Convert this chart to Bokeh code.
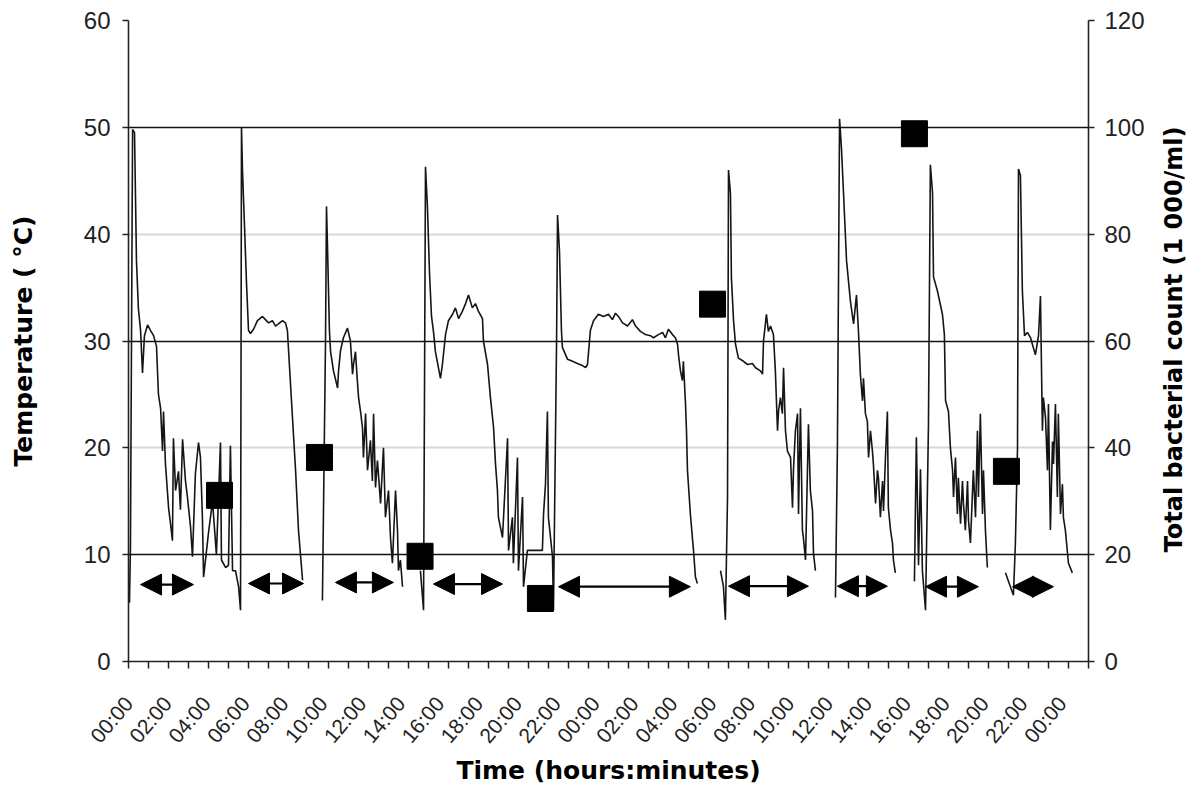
import math
from bokeh.plotting import figure
from bokeh.layouts import row
from bokeh.models import (Range1d, LinearAxis, FixedTicker, Grid, Arrow, NormalHead,
                          ColumnDataSource)
from bokeh.core.properties import value
from bokeh.embed import file_html
from bokeh.resources import INLINE

nan = float("nan")

# ---------------- data ----------------
# temperature trace: time in hours from the first 00:00, temperature in degC (nan = gap)
time_h = [
    0.05, 0.10, 0.21, 0.31, 0.41, 0.51, 0.62, 0.72, 0.82, 0.98,
    1.13, 1.29, 1.44, 1.54, 1.65, 1.75, 1.80, 1.90, 2.06, 2.16,
    2.26, 2.31, 2.42, 2.57, 2.67, 2.78, 2.93, 3.03, 3.19, 3.29,
    3.44, 3.60, 3.70, 3.80, 3.86, 4.11, 4.32, 4.52, 4.73, 4.78,
    4.99, 5.14, 5.24, 5.35, 5.50, 5.66, 5.76, 5.81, 5.86, 5.96,
    6.07, 6.17, 6.27, 6.43, 6.63, 6.89, 7.04, 7.20, 7.40, 7.56,
    7.71, 7.92, 8.07, 8.17, 8.38, 8.59, 8.74, 8.95, 9.46,
    9.97, 10.13, 10.18, 10.23, 10.33, 10.39, 10.54, 10.75, 10.80, 10.90,
    11.05, 11.26, 11.41, 11.52, 11.57, 11.67, 11.77, 11.83, 11.93, 12.03,
    12.08, 12.19, 12.29, 12.44, 12.54, 12.60, 12.70, 12.80, 12.96, 13.11,
    13.21, 13.37, 13.47, 13.57, 13.73, 13.83, 13.88, 13.98, 14.09, 14.60,
    15.01, 15.17, 15.27, 15.37, 15.48, 15.58, 15.68, 15.78, 16.04, 16.14,
    16.30, 16.45, 16.66, 16.81, 16.97, 17.17, 17.33, 17.48, 17.68, 17.84,
    17.99, 18.20, 18.25, 18.46, 18.61, 18.77, 18.87, 18.97, 19.02, 19.23,
    19.49, 19.54, 19.74, 19.79, 20.00, 20.05, 20.26, 20.31, 20.51, 21.28,
    21.34, 21.44, 21.54, 21.59, 21.70, 21.80, 21.85, 22.01, 22.06, 22.16,
    22.26, 22.31, 22.57, 22.83, 23.08, 23.34, 23.50, 23.60, 23.75, 23.91,
    24.16, 24.42, 24.68, 24.88, 25.04, 25.19, 25.40, 25.66, 25.91, 26.07,
    26.32, 26.58, 26.84, 26.99, 27.25, 27.46, 27.61, 27.76, 27.97, 28.12,
    28.23, 28.28, 28.38, 28.48, 28.53, 28.64, 28.69, 28.74, 28.89, 29.05,
    29.15, 29.25, 29.85,
    30.44, 30.59, 30.69, 30.80, 30.85, 30.95, 31.00, 31.11, 31.21, 31.36,
    31.62, 31.83, 32.08, 32.24, 32.49, 32.60, 32.65, 32.80, 32.90, 33.01,
    33.16, 33.26, 33.37, 33.42, 33.52, 33.62, 33.68, 33.78, 33.88, 34.04,
    34.14, 34.19, 34.29, 34.40, 34.45, 34.55, 34.65, 34.70, 34.81, 34.91,
    34.96, 35.06, 35.17, 35.22, 35.32, 35.84,
    36.35, 36.45, 36.56, 36.66, 36.76, 36.92, 37.12, 37.28, 37.43, 37.53,
    37.63, 37.74, 37.79, 37.89, 37.99, 38.05, 38.15, 38.25, 38.30, 38.41,
    38.51, 38.56, 38.66, 38.77, 38.82, 38.92, 39.02, 39.07, 39.18, 39.28,
    39.33, 39.43, 39.92,
    40.41, 40.51, 40.62, 40.72, 40.82, 40.98, 41.13, 41.23, 41.34, 41.39,
    41.59, 41.85, 41.95, 42.01, 42.16, 42.26, 42.37, 42.42, 42.52, 42.62,
    42.67, 42.78, 42.88, 42.93, 43.03, 43.14, 43.19, 43.29, 43.44, 43.55,
    43.65, 43.70, 43.80, 43.91, 43.96, 44.06, 44.16, 44.62,
    45.09, 45.50, 45.60, 45.71, 45.76, 45.86, 45.96, 46.07, 46.22, 46.38,
    46.63, 46.79, 46.89, 46.99, 47.04, 47.15, 47.25, 47.30, 47.40, 47.51,
    47.56, 47.66, 47.76, 47.81, 47.92, 48.02, 48.07, 48.17, 48.33, 48.53,
]
temp_c = [
    5.5, 10.7, 49.8, 49.5, 37.5, 33.0, 31.0, 27.0, 30.5, 31.5,
    31.0, 30.5, 29.5, 25.0, 23.7, 19.7, 23.4, 18.5, 14.4, 12.9,
    11.3, 20.9, 16.0, 17.8, 14.2, 20.8, 16.9, 15.4, 12.6, 9.8,
    17.6, 20.5, 19.1, 13.5, 7.9, 12.0, 15.0, 10.0, 20.5, 9.5,
    8.8, 9.0, 20.2, 8.5, 8.5, 7.0, 4.8, 50.0, 46.0, 41.0,
    35.3, 31.0, 30.7, 31.1, 31.9, 32.3, 32.0, 31.7, 31.9, 31.4,
    31.6, 31.9, 31.7, 31.0, 24.4, 17.9, 12.3, 7.6, nan,
    5.7, 30.0, 42.6, 39.0, 31.0, 29.0, 27.2, 25.6, 27.2, 29.1,
    30.3, 31.2, 30.0, 26.9, 27.8, 29.0, 26.2, 24.7, 23.4, 21.9,
    19.1, 23.2, 17.9, 20.7, 16.9, 23.2, 16.3, 18.8, 14.8, 20.0,
    13.5, 16.0, 11.6, 9.2, 16.0, 12.3, 8.5, 9.5, 7.0, nan,
    8.5, 4.8, 46.3, 42.6, 36.2, 32.3, 30.9, 29.0, 26.5, 27.8,
    30.6, 31.9, 32.5, 33.1, 32.1, 32.8, 33.5, 34.3, 33.1, 33.5,
    32.8, 32.1, 30.0, 27.8, 24.7, 21.9, 18.5, 16.0, 13.5, 11.6,
    20.9, 10.4, 13.5, 9.2, 19.1, 8.5, 15.4, 7.0, 10.4, 10.4,
    13.8, 16.6, 23.4, 13.5, 11.6, 9.8, 4.8, 30.0, 41.8, 38.4,
    31.0, 29.4, 28.3, 28.1, 27.9, 27.7, 27.5, 27.8, 31.0, 31.9,
    32.5, 32.3, 32.5, 32.0, 32.6, 32.3, 31.7, 31.4, 32.0, 31.4,
    30.9, 30.6, 30.5, 30.3, 30.6, 30.8, 30.3, 31.1, 30.6, 30.3,
    29.7, 28.7, 27.2, 26.3, 28.1, 24.1, 21.6, 17.9, 13.8, 10.4,
    7.9, 7.3, nan,
    8.5, 7.0, 3.9, 15.4, 46.0, 43.8, 35.9, 31.9, 29.7, 28.4,
    28.1, 27.8, 27.9, 27.5, 27.2, 26.9, 30.0, 32.5, 30.9, 31.4,
    30.6, 27.2, 21.6, 23.4, 24.7, 23.2, 27.5, 21.6, 19.7, 19.1,
    14.4, 17.9, 21.6, 23.2, 13.8, 23.7, 12.3, 11.6, 9.5, 17.9,
    22.2, 16.0, 14.1, 10.1, 8.5, nan,
    6.0, 20.0, 50.8, 48.0, 44.0, 37.5, 33.7, 31.6, 34.3, 31.0,
    26.9, 24.4, 26.5, 23.2, 22.5, 19.1, 21.6, 19.7, 18.5, 14.8,
    17.9, 17.2, 13.5, 16.9, 14.1, 19.1, 23.4, 14.4, 12.3, 11.1,
    9.5, 8.3, nan,
    7.5, 21.0, 9.0, 18.0, 8.5, 4.8, 22.0, 46.5, 43.9, 36.0,
    34.7, 32.5, 30.6, 24.4, 23.4, 20.0, 17.9, 15.4, 19.1, 13.8,
    17.2, 12.9, 16.9, 14.8, 12.3, 16.9, 13.2, 11.1, 17.9, 13.5,
    21.6, 15.4, 23.2, 13.8, 17.9, 12.3, 8.8, nan,
    8.3, 6.2, 11.0, 20.0, 46.1, 45.5, 34.7, 30.5, 30.8, 30.3,
    28.7, 30.5, 34.2, 21.6, 24.7, 22.8, 17.9, 24.1, 12.3, 20.6,
    18.5, 24.1, 15.4, 23.2, 13.8, 16.6, 13.5, 12.3, 9.2, 8.3,
]

# bacterial count samples (right axis, 1 000/ml)
sample_time_h = [4.68, 9.82, 14.99, 21.18, 30.03, 40.41, 45.14]
sample_count = [31.1, 38.2, 19.7, 11.8, 66.9, 98.8, 35.6]

# double-headed arrows (periods), in hours, drawn at temperature level
arrow_from_h = [0.62, 6.17, 10.64, 15.68, 22.11, 30.85, 36.45, 40.98, 45.45]
arrow_to_h = [3.34, 9.00, 13.62, 19.23, 28.89, 34.96, 39.02, 43.70, 47.56]
arrow_temp = [7.2, 7.3, 7.4, 7.25, 7.0, 7.05, 7.05, 7.0, 7.0]

# axis ticks
x_tick_hours = list(range(0, 49, 2))
x_tick_labels = ["00:00", "02:00", "04:00", "06:00", "08:00", "10:00", "12:00",
                 "14:00", "16:00", "18:00", "20:00", "22:00", "00:00", "02:00",
                 "04:00", "06:00", "08:00", "10:00", "12:00", "14:00", "16:00",
                 "18:00", "20:00", "22:00", "00:00"]
temp_ticks = [0, 10, 20, 30, 40, 50, 60]
count_ticks = [0, 20, 40, 60, 80, 100, 120]

X_END = 49.36
RIGHT_TITLE = "Total bacterial count (1 000/ml)"

TICK_FONT = "Liberation Sans"
TITLE_FONT = "DejaVu Sans"

# ---------------- main figure ----------------
p = figure(width=1157, height=789,
           x_range=Range1d(0, X_END), y_range=Range1d(0, 60),
           output_backend="svg", toolbar_location=None,
           min_border_left=128, min_border_right=69,
           min_border_top=20, min_border_bottom=128)
p.outline_line_color = None
p.extra_y_ranges = {"count": Range1d(0, 120)}

# grids
p.xgrid.visible = False
p.ygrid.ticker = FixedTicker(ticks=[20, 40, 60])
p.ygrid.grid_line_color = "#d8d8d8"
p.ygrid.grid_line_width = 2
dark_grid = Grid(dimension=1, ticker=FixedTicker(ticks=[10, 30, 50]),
                 grid_line_color="#111111", grid_line_width=1.6)
p.add_layout(dark_grid)

# x axis
xa = p.xaxis[0]
xa.ticker = FixedTicker(ticks=x_tick_hours,
                        minor_ticks=[X_END * k / 48 for k in range(49)])
xa.major_label_overrides = {h: lab for h, lab in zip(x_tick_hours, x_tick_labels)}
xa.major_label_orientation = 0.87
xa.major_label_text_font = TICK_FONT
xa.major_label_text_font_size = "21px"
xa.major_label_text_color = "#222222"
xa.major_label_standoff = 31
xa.major_tick_out = 0
xa.major_tick_in = 0
xa.minor_tick_out = 7
xa.minor_tick_in = 0
xa.minor_tick_line_color = "#222222"
xa.minor_tick_line_width = 1.5
xa.axis_line_color = "#222222"
xa.axis_line_width = 1.6
xa.axis_label = "Time (hours:minutes)"
xa.axis_label_text_font = TITLE_FONT
xa.axis_label_text_font_style = "bold"
xa.axis_label_text_font_size = "25px"
xa.axis_label_text_color = "black"
xa.axis_label_standoff = -1

# left axis
ya = p.yaxis[0]
ya.ticker = FixedTicker(ticks=temp_ticks, minor_ticks=[])
ya.major_label_text_font = TICK_FONT
ya.major_label_text_font_size = "24px"
ya.major_label_text_color = "#222222"
ya.major_label_standoff = 12
ya.major_tick_out = 6
ya.major_tick_in = 0
ya.major_tick_line_color = "#222222"
ya.major_tick_line_width = 1.5
ya.axis_line_color = "#222222"
ya.axis_line_width = 1.6
ya.axis_label = "Temperature ( °C)"
ya.axis_label_text_font = TITLE_FONT
ya.axis_label_text_font_style = "bold"
ya.axis_label_text_font_size = "25px"
ya.axis_label_text_color = "black"
ya.axis_label_standoff = 43

# right axis
ra = LinearAxis(y_range_name="count",
                ticker=FixedTicker(ticks=count_ticks, minor_ticks=[]))
ra.major_label_text_font = TICK_FONT
ra.major_label_text_font_size = "24px"
ra.major_label_text_color = "#222222"
ra.major_label_standoff = 10
ra.major_tick_out = 6
ra.major_tick_in = 0
ra.major_tick_line_color = "#222222"
ra.major_tick_line_width = 1.5
ra.axis_line_color = "#222222"
ra.axis_line_width = 1.6
p.add_layout(ra, "right")

# temperature trace
p.line(time_h, temp_c, line_color="#151515", line_width=1.6)

# arrows
arrow_src = ColumnDataSource(dict(x0=arrow_from_h, x1=arrow_to_h, y=arrow_temp))
p.add_layout(Arrow(start=NormalHead(size=21, fill_color="black", line_color="black"),
                   end=NormalHead(size=21, fill_color="black", line_color="black"),
                   x_start="x0", y_start="y", x_end="x1", y_end="y",
                   source=arrow_src, line_color="black", line_width=2.2))

# bacterial count squares
p.scatter(sample_time_h, sample_count, marker="square", size=26,
          fill_color="black", line_color="black", y_range_name="count")

# ---------------- right-hand title strip (reads bottom to top) ----------------
t = figure(width=32, height=789, x_range=Range1d(0, 1), y_range=Range1d(0, 120),
           output_backend="svg", toolbar_location=None,
           x_axis_type=None, y_axis_type=None,
           min_border_left=0, min_border_right=0,
           min_border_top=20, min_border_bottom=128)
t.outline_line_color = None
t.grid.visible = False
t.text(x=[0.5], y=[60.3], text=[RIGHT_TITLE], angle=math.pi / 2,
       text_align="center", text_baseline="middle",
       text_font=value(TITLE_FONT), text_font_style="bold",
       text_font_size="24px", text_color="black")

layout = row(p, t)
open("out.html", "w").write(file_html(layout, INLINE))
